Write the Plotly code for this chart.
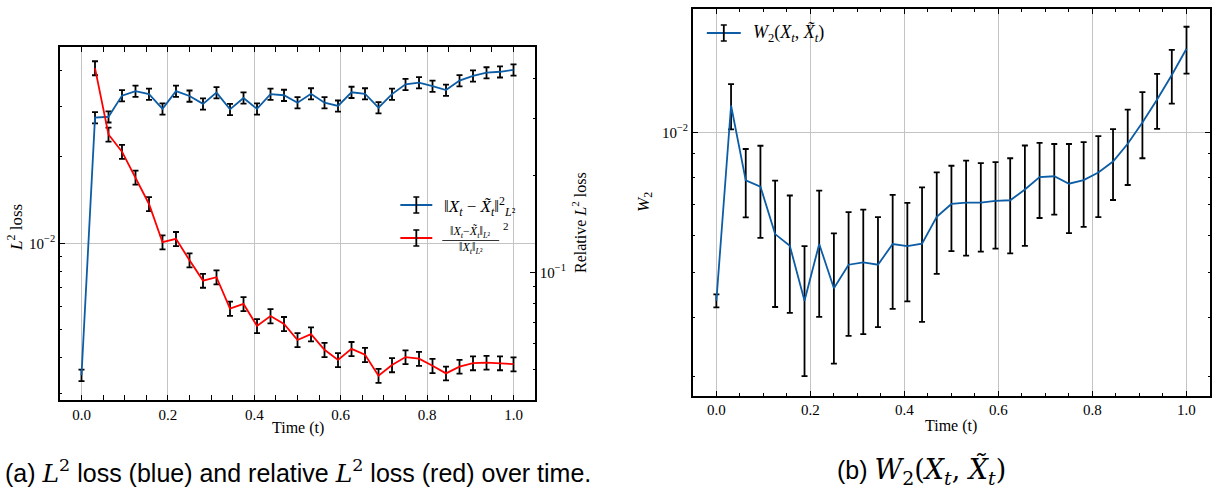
import plotly.graph_objects as go

# ---------------- data ----------------
t = [0.0, 0.03125, 0.0625, 0.09375, 0.125, 0.15625, 0.1875, 0.21875, 0.25, 0.28125,
     0.3125, 0.34375, 0.375, 0.40625, 0.4375, 0.46875, 0.5, 0.53125, 0.5625, 0.59375,
     0.625, 0.65625, 0.6875, 0.71875, 0.75, 0.78125, 0.8125, 0.84375, 0.875, 0.90625,
     0.9375, 0.96875, 1.0]

l2_loss = [0.00347, 0.0274, 0.0276, 0.0327, 0.0339, 0.0331, 0.0294, 0.0339, 0.0326, 0.0306,
           0.0335, 0.0293, 0.0321, 0.0294, 0.0331, 0.0328, 0.0309, 0.0332, 0.0309, 0.0301,
           0.0336, 0.0332, 0.0297, 0.0331, 0.0358, 0.0363, 0.0353, 0.0342, 0.0369, 0.0383,
           0.0393, 0.0396, 0.0402]
l2_err = [0.00016, 0.00123, 0.00124, 0.00147, 0.00153, 0.00149, 0.00132, 0.00153, 0.00147, 0.00138,
          0.00151, 0.00132, 0.00144, 0.00132, 0.00149, 0.00148, 0.00139, 0.00149, 0.00139, 0.00135,
          0.00151, 0.00149, 0.00134, 0.00149, 0.00161, 0.00163, 0.00159, 0.00154, 0.00166, 0.00172,
          0.00177, 0.00178, 0.00181]

rel_loss = [None, 0.431, 0.268, 0.237, 0.197, 0.163, 0.124, 0.127, 0.109, 0.0942,
            0.0965, 0.0771, 0.0797, 0.0681, 0.0731, 0.0691, 0.0616, 0.0642, 0.0574, 0.0534,
            0.0578, 0.0554, 0.0477, 0.0515, 0.0545, 0.0539, 0.0512, 0.0485, 0.0509, 0.0522,
            0.0524, 0.0522, 0.0518]
rel_err = [None, 0.0216, 0.0134, 0.0119, 0.0099, 0.0082, 0.0062, 0.0064, 0.0055, 0.0047,
           0.0048, 0.0039, 0.0040, 0.0034, 0.0037, 0.0035, 0.0031, 0.0032, 0.0029, 0.0027,
           0.0029, 0.0028, 0.0024, 0.0026, 0.0027, 0.0027, 0.0026, 0.0024, 0.0025, 0.0026,
           0.0026, 0.0026, 0.0026]

w2 = [0.00435, 0.01142, 0.00789, 0.00765, 0.00605, 0.00571, 0.00435, 0.00576, 0.00463, 0.00520,
      0.00526, 0.00520, 0.00576, 0.00570, 0.00577, 0.00659, 0.00702, 0.00707, 0.00707, 0.00713,
      0.00715, 0.00754, 0.00802, 0.00805, 0.00776, 0.00790, 0.00820, 0.00866, 0.00945, 0.01050,
      0.01176, 0.01328, 0.01511]
w2_err = [0.00014, 0.00127, 0.00132, 0.00171, 0.00183, 0.00161, 0.00135, 0.00174, 0.00144, 0.00154,
          0.00157, 0.00138, 0.00158, 0.00136, 0.00185, 0.00162, 0.00146, 0.00163, 0.00152, 0.00150,
          0.00165, 0.00183, 0.00147, 0.00139, 0.00168, 0.00163, 0.00162, 0.00150, 0.00174, 0.00170,
          0.00159, 0.00175, 0.00174]

x_ticks = [0.0, 0.2, 0.4, 0.6, 0.8, 1.0]
x_ticklabels = ["0.0", "0.2", "0.4", "0.6", "0.8", "1.0"]

BLUE = "#0C5DA5"
RED = "#FF0000"
SERIF = "Liberation Serif"
SANS = "Liberation Sans"
W, H = 1212, 492


def X(px):
    return px / W


def Y(py):
    return 1 - py / H


fig = go.Figure()

eb = dict(type="data", color="black", thickness=1.8, width=3)

fig.add_trace(go.Scatter(x=t, y=l2_loss, mode="lines", line=dict(color=BLUE, width=1.8),
                         error_y=dict(array=l2_err, **eb), xaxis="x", yaxis="y",
                         showlegend=False))
fig.add_trace(go.Scatter(x=t, y=rel_loss, mode="lines", line=dict(color=RED, width=1.8),
                         error_y=dict(array=rel_err, **eb), xaxis="x", yaxis="y2",
                         showlegend=False))
fig.add_trace(go.Scatter(x=t, y=w2, mode="lines", line=dict(color=BLUE, width=1.8),
                         error_y=dict(array=w2_err, **eb), xaxis="x2", yaxis="y3",
                         showlegend=False))

tickfont = dict(family=SERIF, size=15, color="black")
grid = dict(showgrid=True, gridcolor="#c4c4c4", gridwidth=1)

xcommon = dict(range=[-0.05, 1.05], tickvals=x_ticks, ticktext=x_ticklabels,
               ticks="inside", ticklen=5, tickwidth=1, tickcolor="black",
               showline=True, linecolor="black", linewidth=1.5, mirror="allticks",
               tickfont=tickfont, zeroline=False,
               minor=dict(ticks="inside", ticklen=2.5, dtick=0.05, tick0=0,
                          tickcolor="black", showgrid=False),
               **grid)

ycommon = dict(type="log", ticks="inside", ticklen=5, tickwidth=1, tickcolor="black",
               showline=True, linecolor="black", linewidth=1.5, tickfont=tickfont,
               zeroline=False)

fig.update_layout(
    width=W, height=H, margin=dict(l=0, r=0, t=0, b=0),
    paper_bgcolor="white", plot_bgcolor="white",
    xaxis=dict(domain=[X(60), X(536)], anchor="y", **xcommon),
    yaxis=dict(range=[-2.546, -1.316], tickvals=[0.01], ticktext=["10<sup>−2</sup>"],
               mirror=False, showgrid=True, gridcolor="#c4c4c4", gridwidth=1,
               minor=dict(ticks="inside", ticklen=2.5, tickcolor="black", showgrid=False,
                          tickvals=[0.003, 0.004, 0.005, 0.006, 0.007, 0.008, 0.009,
                                    0.02, 0.03, 0.04]),
               domain=[Y(400), Y(47)], anchor="x", **ycommon),
    yaxis2=dict(range=[-1.397, -0.300], tickvals=[0.1], ticktext=["10<sup>−1</sup>"],
                overlaying="y", side="right", anchor="x", showgrid=False,
                minor=dict(ticks="inside", ticklen=2.5, tickcolor="black", showgrid=False,
                           tickvals=[0.05, 0.06, 0.07, 0.08, 0.09, 0.2, 0.3, 0.4]),
                **ycommon),
    xaxis2=dict(domain=[X(694), 1.0], anchor="y3", **xcommon),
    yaxis3=dict(range=[-2.565, -1.736], tickvals=[0.01], ticktext=["10<sup>−2</sup>"],
                mirror="allticks", showgrid=True, gridcolor="#c4c4c4", gridwidth=1,
                minor=dict(ticks="inside", ticklen=2.5, tickcolor="black", showgrid=False,
                           tickvals=[0.003, 0.004, 0.005, 0.006, 0.007, 0.008, 0.009]),
                domain=[Y(395.7), Y(9.3)], anchor="x2", **ycommon),
)

ann = []
shapes = []


def text(px, py, s, size=14, angle=0, family=SERIF, xanchor="center"):
    ann.append(dict(x=X(px), y=Y(py), xref="paper", yref="paper", text=s, showarrow=False,
                    textangle=angle, xanchor=xanchor, yanchor="middle",
                    font=dict(family=family, size=size, color="black")))


# axis titles
text(298, 428, "Time (t)", 16)
text(953, 426, "Time (t)", 16)
text(15, 227, "<i>L</i><sup>2</sup> loss", 17, angle=-90)
text(580, 223, "Relative <i>L</i><sup>2</sup> loss", 16, angle=-90)
text(646, 202, "<i>W</i><sub>2</sub>", 17, angle=-90)


def legend_glyph(x0, x1, y, color):
    xm = (x0 + x1) / 2
    shapes.append(dict(type="line", xref="paper", yref="paper", x0=X(x0), x1=X(x1),
                       y0=Y(y), y1=Y(y), line=dict(color=color, width=1.8)))
    shapes.append(dict(type="line", xref="paper", yref="paper", x0=X(xm), x1=X(xm),
                       y0=Y(y - 8), y1=Y(y + 8), line=dict(color="black", width=1.8)))
    for yy in (y - 8, y + 8):
        shapes.append(dict(type="line", xref="paper", yref="paper", x0=X(xm - 3), x1=X(xm + 3),
                           y0=Y(yy), y1=Y(yy), line=dict(color="black", width=1.5)))


XT = "<i>X</i><sub><i>t</i></sub>"
XTT = "<i>X̃</i><sub><i>t</i></sub>"

# left legend
legend_glyph(401, 433, 205, BLUE)
text(443, 206, "‖" + XT + " − " + XTT + "‖<sup>2</sup><sub><i>L</i>²</sub>",
     17, xanchor="left")
legend_glyph(401, 433, 238, RED)
text(471, 232, "‖" + XT + "−" + XTT + "‖<sub><i>L</i>²</sub>", 12)
shapes.append(dict(type="line", xref="paper", yref="paper", x0=X(443), x1=X(500),
                   y0=Y(240.5), y1=Y(240.5), line=dict(color="black", width=0.8)))
text(472, 248, "‖" + XT + "‖<sub><i>L</i>²</sub>", 12)
text(502, 226, "2", 11, xanchor="left")

# right legend
legend_glyph(708, 742, 33, BLUE)
text(752, 34, "<i>W</i><sub>2</sub>(" + XT + ", " + XTT + ")", 18, xanchor="left")

# captions
MATH = "<span style='font-family:DejaVu Serif;font-size:25px'>"
MATHB = "<span style='font-family:DejaVu Serif;font-size:27px'>"
text(3, 471, "(a) " + MATH + "<i>L</i><sup>2</sup></span> loss (blue) "
             "and relative " + MATH + "<i>L</i><sup>2</sup></span> "
             "loss (red) over time.", 25, family=SANS, xanchor="left")
text(836, 471, "(b) " + MATHB + "<i>W</i><sub>2</sub>(" + XT + ", " + XTT + ")</span>",
     25, family=SANS, xanchor="left")

fig.update_layout(annotations=ann, shapes=shapes)
fig.write_html("out.html", post_script="document.body.style.margin='0';",
               config={"displayModeBar": False})
